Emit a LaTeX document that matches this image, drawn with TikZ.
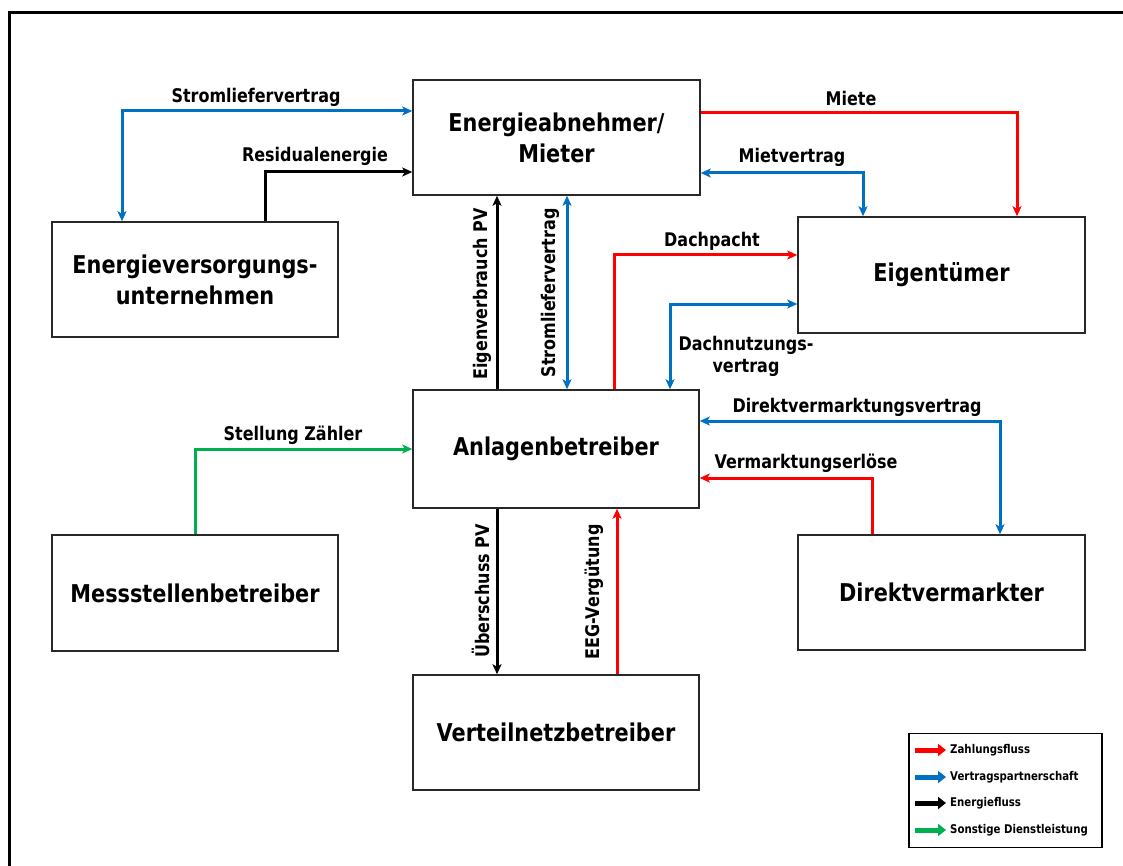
\documentclass[tikz,border=0pt]{standalone}
\usepackage{fontspec}
\setmainfont{DejaVu Sans}[FakeStretch=0.85]
\usetikzlibrary{arrows.meta}
\definecolor{payred}{RGB}{255,0,0}
\definecolor{contractblue}{RGB}{0,112,192}
\definecolor{servgreen}{RGB}{0,176,80}
\definecolor{boxline}{RGB}{40,40,40}

\begin{document}
\begin{tikzpicture}[x=1pt,y=-1pt,
  box/.style={draw=boxline, line width=1.5pt, inner sep=0pt, align=center,
    minimum width=286pt, minimum height=115pt,
    font=\fontsize{24.5}{31}\selectfont\bfseries},
  lbl/.style={font=\fontsize{18.8}{22}\selectfont\bfseries, inner sep=1pt, align=center},
  tip/.tip={Stealth[length=10pt,width=9pt,inset=2.5pt]},
  flow/.style={line width=3pt, -tip},
  both/.style={line width=3pt, tip-tip},
  payment/.style={flow, draw=payred},
  energy/.style={flow, draw=black},
  service/.style={flow, draw=servgreen},
  contract/.style={both, draw=contractblue},
  legarrow/.style={line width=5pt, -{Triangle[length=8pt,width=12pt]}},
  legtext/.style={anchor=west, inner sep=0pt, font=\fontsize{12}{14}\selectfont\bfseries}
]
\useasboundingbox (0,0) rectangle (1123,866);
\fill[white] (0,0) rectangle (1123,866);

% outer frame (open to the right and bottom)
\draw[line width=3pt] (9,870) -- (9,13) -- (1130,13);

% parties
\node[box, minimum width=287pt] (eab) at (556.5,137.5) {Energieabnehmer/\\Mieter};
\node[box] (evu) at (195,279.5) {Energieversorgungs-\\unternehmen};
\node[box, minimum width=287pt, minimum height=116pt] (eig) at (941.5,275) {Eigentümer};
\node[box, minimum height=118pt] (anl) at (556,449) {Anlagenbetreiber};
\node[box, minimum height=116pt] (mess) at (195,593) {Messstellenbetreiber};
\node[box, minimum width=287pt] (dv) at (941.5,592.5) {Direktvermarkter};
\node[box] (vnb) at (556,732.5) {Verteilnetzbetreiber};

% flows around the consumer
\draw[contract] (evu.north -| 122,0) |- (eab.west |- 0,111);
\node[lbl] (l1) at (256,97) {Stromliefervertrag};
\draw[energy] (evu.north -| 265,0) |- (eab.west |- 0,172);
\node[lbl] (l2) at (315,156) {Residualenergie};
\draw[payment] (eab.east |- 0,113) -| (eig.north -| 1017,0);
\node[lbl] (l3) at (851,98) {Miete};
\draw[contract] (eig.north -| 863,0) |- (eab.east |- 0,173);
\node[lbl] (l4) at (792,157) {Mietvertrag};

% roof lease
\draw[payment] (anl.north -| 614,0) |- (eig.west |- 0,255);
\node[lbl] (l5) at (712,241) {Dachpacht};
\draw[contract] (eig.west |- 0,304) -| (anl.north -| 670,0);
\node[lbl] (l6) at (746,356) {Dachnutzungs-\\vertrag};

% between operator and consumer
\draw[energy] (anl.north -| 497,0) -- (eab.south -| 497,0);
\node[lbl, rotate=90] (l7) at (482,294) {Eigenverbrauch PV};
\draw[contract] (anl.north -| 567,0) -- (eab.south -| 567,0);
\node[lbl, rotate=90] (l8) at (550,293) {Stromliefervertrag};

% direct marketing
\draw[contract] (anl.east |- 0,421) -| (dv.north -| 1000,0);
\node[lbl] (l9) at (857,407) {Direktvermarktungsvertrag};
\draw[payment] (dv.north -| 872,0) |- (anl.east |- 0,478);
\node[lbl] (l10) at (806,463) {Vermarktungserlöse};

% metering
\draw[service] (mess.north) |- (anl.west |- 0,449);
\node[lbl] (l11) at (293,435) {Stellung Zähler};

% grid operator
\draw[energy] (anl.south -| 497,0) -- (vnb.north -| 497,0);
\node[lbl, rotate=90] (l12) at (481,591) {Überschuss PV};
\draw[payment] (vnb.north -| 617,0) -- (anl.south -| 617,0);
\node[lbl, rotate=90] (l13) at (594,592) {EEG-Vergütung};

% legend
\node[draw=black, line width=1.3pt, minimum width=193pt, minimum height=114pt, inner sep=0pt] (legend) at (1005.5,790.5) {};
\draw[legarrow, payred] (915,750) -- (946,750);
\node[legtext] (t1) at (950,750) {Zahlungsfluss};
\draw[legarrow, contractblue] (915,777) -- (946,777);
\node[legtext] (t2) at (950,777) {Vertragspartnerschaft};
\draw[legarrow, black] (915,803) -- (946,803);
\node[legtext] (t3) at (950,803) {Energiefluss};
\draw[legarrow, servgreen] (915,830) -- (946,830);
\node[legtext] (t4) at (950,830) {Sonstige Dienstleistung};
\end{tikzpicture}
\end{document}
